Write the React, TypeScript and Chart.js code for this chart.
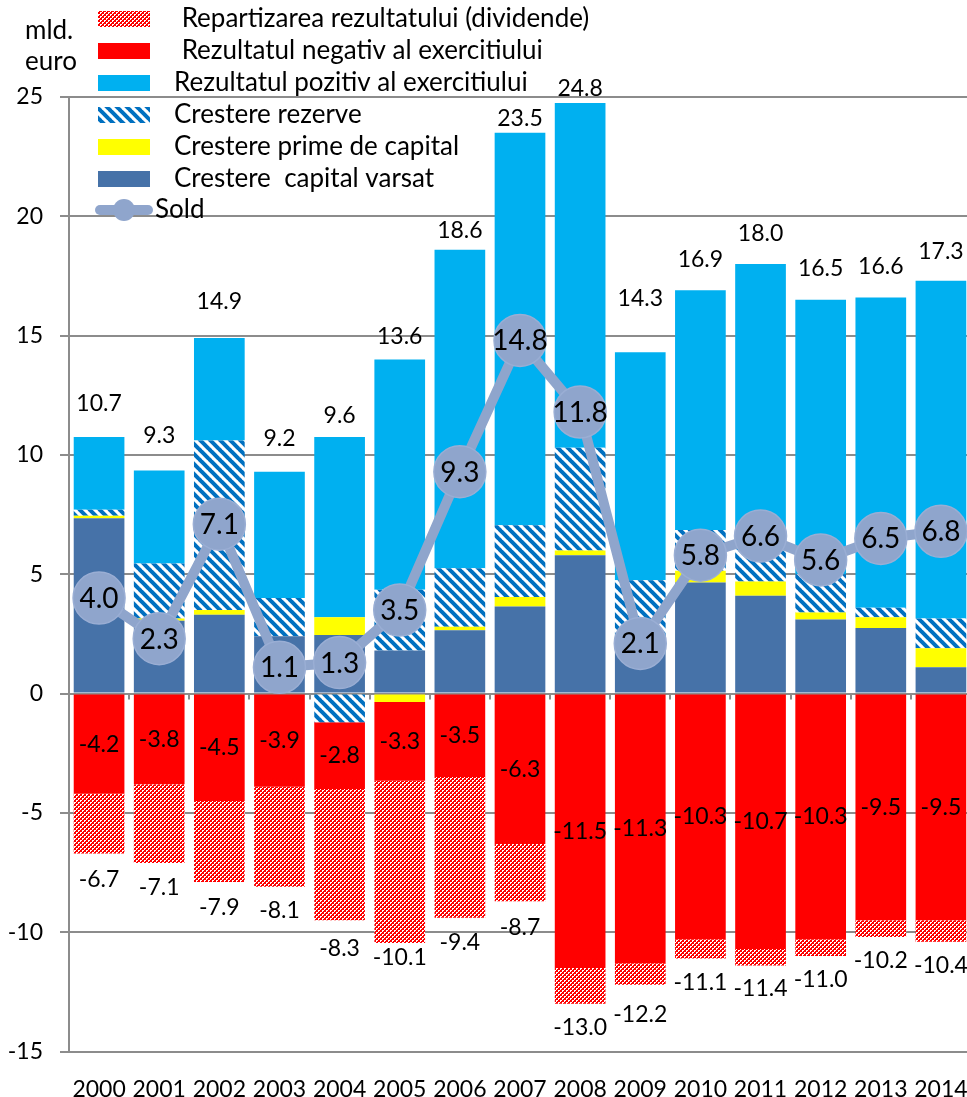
import React, { useEffect, useRef } from 'react';
import { Chart, registerables } from 'chart.js';

Chart.register(...registerables);

// ---------- DATA ----------
const years = ['2000', '2001', '2002', '2003', '2004', '2005', '2006', '2007', '2008', '2009', '2010', '2011', '2012', '2013', '2014'];

const capitalVarsat = [7.35, 3.05, 3.3, 2.4, 2.45, 1.8, 2.65, 3.65, 5.8, 1.9, 4.65, 4.1, 3.1, 2.75, 1.1];
const primeCapital = [0.1, 0.1, 0.2, 0, 0.75, -0.35, 0.15, 0.4, 0.2, 0, 0.5, 0.6, 0.3, 0.45, 0.8];
const cresterRezerve = [0.25, 2.3, 7.1, 1.6, -1.2, 2.55, 2.45, 3.0, 4.3, 2.85, 1.7, 2.1, 1.6, 0.4, 1.25];
const rezultatPozitiv = [3.05, 3.9, 4.3, 5.3, 7.55, 9.65, 13.35, 16.45, 14.45, 9.55, 10.05, 11.2, 11.5, 13.0, 14.15];
const rezultatNegativ = [-4.2, -3.8, -4.5, -3.9, -2.8, -3.3, -3.5, -6.3, -11.5, -11.3, -10.3, -10.7, -10.3, -9.5, -9.5];
const dividende = [-2.5, -3.3, -3.4, -4.2, -5.5, -6.8, -5.9, -2.4, -1.5, -0.9, -0.8, -0.7, -0.7, -0.7, -0.9];
const sold = [4.0, 2.3, 7.1, 1.1, 1.3, 3.5, 9.3, 14.8, 11.8, 2.1, 5.8, 6.6, 5.6, 6.5, 6.8];

// labels shown above / below the stacks
const totalPozitivLabels = [10.7, 9.3, 14.9, 9.2, 9.6, 13.6, 18.6, 23.5, 24.8, 14.3, 16.9, 18.0, 16.5, 16.6, 17.3];
const totalNegativLabels = [-6.7, -7.1, -7.9, -8.1, -8.3, -10.1, -9.4, -8.7, -13.0, -12.2, -11.1, -11.4, -11.0, -10.2, -10.4];

const yTicks = [25, 20, 15, 10, 5, 0, -5, -10, -15];

// ---------- STYLE / LAYOUT (not data) ----------
const topLabelGap = [33, 35, 36, 33, 21, 23, 19, 14, 14, 54, 31, 30, 31, 31, 29];
const bottomLabelGap = [26, 25, 26, 24, 28, 15, 25, 26, 24, 30, 24, 23, 24, 24, 24];

const FONT = 'Lato, "Open Sans", sans-serif';
const C_CAP = '#4672A8';
const C_PRIME = '#FFFF00';
const C_REZ = '#0070C0';
const C_POZ = '#00B0F0';
const C_NEG = '#FF0000';
const C_SOLD = '#8FA5CC';
const C_SOLD_EDGE = '#9AAED4';
const C_GRID = '#8C8C8C';

function makeHatch(): CanvasPattern | string {
  const t = document.createElement('canvas');
  t.width = 10;
  t.height = 10;
  const g = t.getContext('2d');
  if (!g) return C_REZ;
  g.fillStyle = '#FFFFFF';
  g.fillRect(0, 0, 10, 10);
  g.strokeStyle = C_REZ;
  g.lineWidth = 4;
  for (const k of [-10, 0, 10]) {
    g.beginPath();
    g.moveTo(k - 1, -1);
    g.lineTo(k + 11, 11);
    g.stroke();
  }
  return g.createPattern(t, 'repeat') || C_REZ;
}

function makeChecker(): CanvasPattern | string {
  const t = document.createElement('canvas');
  t.width = 4;
  t.height = 4;
  const g = t.getContext('2d');
  if (!g) return C_NEG;
  g.fillStyle = C_NEG;
  g.fillRect(0, 0, 4, 4);
  g.fillStyle = '#FFFFFF';
  g.fillRect(0, 0, 2, 1);
  g.fillRect(0, 1, 1, 1);
  g.fillRect(2, 2, 2, 1);
  g.fillRect(2, 3, 1, 1);
  return g.createPattern(t, 'repeat') || C_NEG;
}

export default function App() {
  const ref = useRef<HTMLCanvasElement | null>(null);

  useEffect(() => {
    const canvas = ref.current;
    if (!canvas) return;
    const hatch = makeHatch();
    const checker = makeChecker();

    const legendItems = [
      { text: ' Repartizarea rezultatului (dividende)', fill: checker, kind: 'box' },
      { text: ' Rezultatul negativ al exercitiului', fill: C_NEG, kind: 'box' },
      { text: 'Rezultatul pozitiv al exercitiului', fill: C_POZ, kind: 'box' },
      { text: 'Crestere rezerve', fill: hatch, kind: 'box' },
      { text: 'Crestere prime de capital', fill: C_PRIME, kind: 'box' },
      { text: 'Crestere  capital varsat', fill: C_CAP, kind: 'box' },
      { text: 'Sold', fill: C_SOLD, kind: 'line' },
    ];

    const decorPlugin = {
      id: 'decor',
      afterDatasetsDraw(chart: any) {
        const ctx = chart.ctx as CanvasRenderingContext2D;
        const area = chart.chartArea;
        const yScale = chart.scales.y;
        const y0 = yScale.getPixelForValue(0);
        ctx.save();
        // small category ticks on the zero line
        const n = years.length;
        const cw = (area.right - area.left) / n;
        ctx.strokeStyle = C_GRID;
        ctx.lineWidth = 2;
        for (let k = 0; k <= n; k++) {
          const x = Math.round(area.left + k * cw);
          ctx.beginPath();
          ctx.moveTo(x, y0);
          ctx.lineTo(x, y0 + 6);
          ctx.stroke();
        }

        ctx.fillStyle = '#000';
        ctx.textAlign = 'center';
        ctx.textBaseline = 'middle';
        ctx.font = `23px ${FONT}`;
        const pozMeta = chart.getDatasetMeta(3);
        const negMeta = chart.getDatasetMeta(4);
        const divMeta = chart.getDatasetMeta(5);
        for (let i = 0; i < n; i++) {
          const pb = pozMeta.data[i];
          ctx.fillText(totalPozitivLabels[i].toFixed(1), pb.x, pb.y - topLabelGap[i]);
          const nb = negMeta.data[i];
          ctx.fillText(rezultatNegativ[i].toFixed(1), nb.x, (nb.y + nb.base) / 2);
          const db = divMeta.data[i];
          ctx.fillText(totalNegativLabels[i].toFixed(1), db.x, db.y + bottomLabelGap[i]);
        }
        // sold labels
        const soldMeta = chart.getDatasetMeta(6);
        ctx.font = `28px ${FONT}`;
        for (let i = 0; i < n; i++) {
          const p = soldMeta.data[i];
          ctx.fillText(sold[i].toFixed(1), p.x, p.y + 1);
        }
        ctx.restore();
      },
      afterDraw(chart: any) {
        const ctx = chart.ctx as CanvasRenderingContext2D;
        ctx.save();
        ctx.fillStyle = '#000';
        ctx.textBaseline = 'middle';
        ctx.textAlign = 'left';
        ctx.font = `26px ${FONT}`;
        ctx.fillText('mld.', 25, 31);
        ctx.fillText('euro', 25, 62);

        const rowY = [19, 51, 83, 115, 147, 179, 210];
        legendItems.forEach((it, i) => {
          const cy = rowY[i];
          if (it.kind === 'box') {
            ctx.fillStyle = it.fill as any;
            ctx.fillRect(98, cy - 8, 52, 16);
            ctx.fillStyle = '#000';
            ctx.fillText(it.text, i < 2 ? 175 : 174, cy);
          } else {
            ctx.strokeStyle = C_SOLD;
            ctx.lineWidth = 10;
            ctx.lineCap = 'round';
            ctx.beginPath();
            ctx.moveTo(100, cy);
            ctx.lineTo(148, cy);
            ctx.stroke();
            ctx.fillStyle = C_SOLD;
            ctx.beginPath();
            ctx.arc(124, cy, 11, 0, Math.PI * 2);
            ctx.fill();
            ctx.fillStyle = '#000';
            ctx.fillText(it.text, 155, cy);
          }
        });
        ctx.restore();
      },
    };

    const barCommon = { stack: 's', order: 1, borderWidth: 0, barPercentage: 0.843, categoryPercentage: 1 };

    const chart = new Chart(canvas, {
      type: 'bar',
      data: {
        labels: years,
        datasets: [
          { ...barCommon, label: 'Crestere  capital varsat', data: capitalVarsat, backgroundColor: C_CAP },
          { ...barCommon, label: 'Crestere prime de capital', data: primeCapital, backgroundColor: C_PRIME },
          { ...barCommon, label: 'Crestere rezerve', data: cresterRezerve, backgroundColor: hatch as any },
          { ...barCommon, label: 'Rezultatul pozitiv al exercitiului', data: rezultatPozitiv, backgroundColor: C_POZ },
          { ...barCommon, label: 'Rezultatul negativ al exercitiului', data: rezultatNegativ, backgroundColor: C_NEG },
          { ...barCommon, label: 'Repartizarea rezultatului (dividende)', data: dividende, backgroundColor: checker as any },
          {
            type: 'line',
            label: 'Sold',
            data: sold,
            stack: 'sold',
            order: 0,
            borderColor: C_SOLD,
            borderWidth: 10,
            pointRadius: 26,
            pointHoverRadius: 26,
            pointBackgroundColor: C_SOLD,
            pointBorderColor: C_SOLD_EDGE,
            pointBorderWidth: 1.5,
            tension: 0,
            fill: false,
            clip: false,
          } as any,
        ],
      },
      options: {
        animation: false,
        responsive: false,
        devicePixelRatio: 1,
        events: [],
        layout: { autoPadding: false, padding: { top: 97, left: 0, right: 0, bottom: 0 } },
        plugins: { legend: { display: false }, tooltip: { enabled: false }, title: { display: false } },
        scales: {
          x: {
            stacked: true,
            grid: { display: false, drawTicks: false },
            border: { display: false },
            ticks: { font: { family: FONT, size: 23 }, color: '#000', padding: 24, maxRotation: 0, autoSkip: false },
            afterFit: (s: any) => {
              s.height = 45.5;
              s.paddingLeft = 0;
              s.paddingRight = 0;
            },
          },
          y: {
            stacked: true,
            min: -15,
            max: 25,
            afterBuildTicks: (s: any) => {
              s.ticks = yTicks.map((v) => ({ value: v }));
            },
            ticks: { font: { family: FONT, size: 23 }, color: '#000', padding: 17 },
            grid: { color: C_GRID, lineWidth: 2, tickLength: 9, tickColor: C_GRID },
            border: { color: C_GRID, width: 2 },
            afterFit: (s: any) => {
              s.width = 69;
              s.paddingTop = 0;
              s.paddingBottom = 0;
            },
          },
        },
      },
      plugins: [decorPlugin],
    } as any);

    return () => chart.destroy();
  }, []);

  return (
    <div style={{ position: 'fixed', left: 0, top: 0, width: 967, height: 1097, overflow: 'hidden', background: '#fff' }}>
      <canvas ref={ref} width={971} height={1097} style={{ display: 'block', width: 971, height: 1097 }} />
    </div>
  );
}
